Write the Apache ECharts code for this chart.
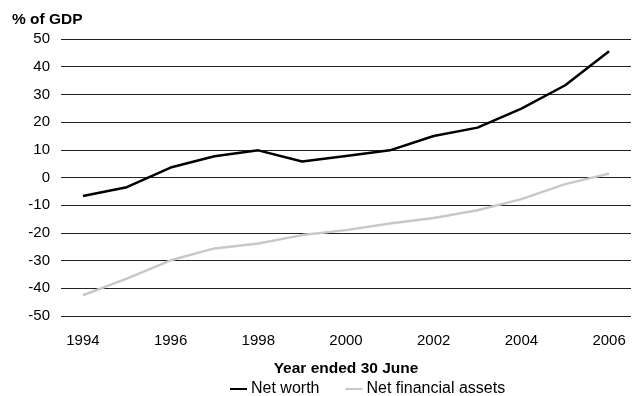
<!DOCTYPE html>
<html>
<head>
<meta charset="utf-8">
<script src="https://cdn.jsdelivr.net/npm/echarts@6/dist/echarts.min.js"></script>
<style>
  html, body { margin: 0; padding: 0; background: #fff; }
  #chart { width: 633px; height: 396px; }
</style>
</head>
<body>
<div id="chart"></div>
<script>
// Household balance sheet, % of GDP
const years = ['1994','1995','1996','1997','1998','1999','2000','2001','2002','2003','2004','2005','2006'];
const netWorth = [-6.7, -3.5, 3.6, 7.7, 9.8, 5.8, 7.8, 9.8, 15.0, 18.0, 24.9, 33.3, 45.6];
const netFinancialAssets = [-42.5, -36.5, -29.9, -25.6, -23.8, -20.8, -19.0, -16.6, -14.6, -11.8, -7.8, -2.4, 1.4];
const yMin = -50, yMax = 50, yStep = 10;

const FONT = '"Liberation Sans", Arial, sans-serif';

const chart = echarts.init(document.getElementById('chart'), null, { renderer: 'canvas' });
chart.setOption({
  animation: false,
  backgroundColor: '#ffffff',
  title: {
    text: '% of GDP',
    left: 12,
    top: 12,
    padding: 0,
    textStyle: { fontFamily: FONT, fontSize: 15.5, fontWeight: 'bold', color: '#000' }
  },
  legend: {
    left: 230,
    top: 381,
    padding: 0,
    itemGap: 26,
    itemWidth: 17,
    itemHeight: 2,
    icon: 'rect',
    textStyle: { fontFamily: FONT, fontSize: 16, color: '#000', padding: [0, 0, 0, -1] },
    data: ['Net worth', 'Net financial assets']
  },
  grid: { left: 61, right: 2, top: 39, bottom: 80, containLabel: false },
  xAxis: {
    type: 'category',
    data: years,
    boundaryGap: true,
    name: 'Year ended 30 June',
    nameLocation: 'middle',
    nameGap: 45,
    nameTextStyle: { fontFamily: FONT, fontSize: 15.5, fontWeight: 'bold', color: '#000' },
    axisLine: { show: false },
    axisTick: { show: false },
    axisLabel: {
      interval: 1,
      margin: 17,
      fontFamily: FONT, fontSize: 15, color: '#000'
    },
    splitLine: { show: false }
  },
  yAxis: {
    type: 'value',
    min: yMin,
    max: yMax,
    interval: yStep,
    axisLine: { show: false },
    axisTick: { show: false },
    axisLabel: { margin: 11, fontFamily: FONT, fontSize: 15, color: '#000' },
    splitLine: { show: true, lineStyle: { color: '#222', width: 1 } }
  },
  series: [
    {
      name: 'Net worth',
      type: 'line',
      data: netWorth,
      symbol: 'none',
      lineStyle: { color: '#000', width: 2.5 },
      itemStyle: { color: '#000' }
    },
    {
      name: 'Net financial assets',
      type: 'line',
      data: netFinancialAssets,
      symbol: 'none',
      lineStyle: { color: '#c8c8c8', width: 2.5 },
      itemStyle: { color: '#c8c8c8' }
    }
  ]
});
</script>
</body>
</html>
